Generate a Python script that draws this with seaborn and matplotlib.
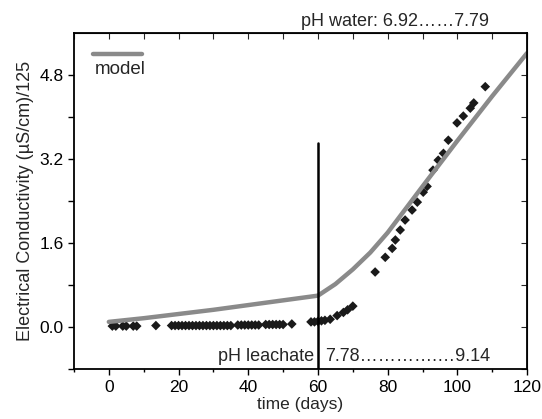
import numpy as np
import pandas as pd
import seaborn as sns
import matplotlib.pyplot as plt
from matplotlib.ticker import MultipleLocator

sns.set_style('ticks')
plt.rcParams['font.family'] = ['Liberation Sans', 'DejaVu Sans']

# measured data (time in days, EC/125)
days = [1, 2, 4, 5, 7, 8, 13.5,
        18, 19, 20, 21, 22, 23, 24, 25, 26, 27, 28, 29, 30, 31, 32, 33, 34, 35,
        37, 38, 39, 40, 41, 42, 43, 45, 46, 47, 48, 49, 50, 52.5,
        58, 59, 60, 61, 62, 63.5, 65.5, 67.3, 68.5, 70,
        76.4, 79.3, 81.3, 82.2, 83.6, 85, 87, 88.5, 90.2, 91.3, 93, 94.5,
        96, 97.4, 99.9, 101.7, 103.7, 104.7, 108]
ec = [0.02, 0.02, 0.02, 0.02, 0.02, 0.02, 0.03,
      0.03, 0.03, 0.03, 0.03, 0.03, 0.03, 0.03, 0.03, 0.03, 0.03, 0.03, 0.03, 0.03, 0.03, 0.03, 0.03, 0.03, 0.03,
      0.04, 0.04, 0.04, 0.04, 0.04, 0.04, 0.04, 0.05, 0.05, 0.05, 0.05, 0.05, 0.05, 0.06,
      0.1, 0.1, 0.11, 0.12, 0.13, 0.15, 0.22, 0.28, 0.33, 0.4,
      1.05, 1.33, 1.5, 1.66, 1.85, 2.04, 2.23, 2.38, 2.57, 2.68, 2.99, 3.18,
      3.31, 3.56, 3.89, 4.02, 4.17, 4.27, 4.58]

# model curve
model_days = [0, 10, 20, 30, 40, 50, 60, 65, 70, 75, 80, 90, 100, 110, 120]
model_ec = [0.1, 0.17, 0.25, 0.33, 0.42, 0.51, 0.6, 0.82, 1.1, 1.42, 1.8, 2.68, 3.55, 4.4, 5.22]

obs = pd.DataFrame({'t': days, 'ec': ec})
mod = pd.DataFrame({'t': model_days, 'ec': model_ec})

fig = plt.figure(figsize=(5.42, 4.19), dpi=100)
ax = fig.add_axes([0.1365, 0.119, 0.836, 0.802])

sns.lineplot(data=mod, x='t', y='ec', ax=ax, color='#8a8a8a', linewidth=3.2)
sns.scatterplot(data=obs, x='t', y='ec', ax=ax, marker='D', color='#1a1a1a',
                s=24, edgecolor='none')

ax.plot([60, 60], [-0.8, 3.5], color='black', linewidth=1.8)

ax.set_xlim(-10, 120)
ax.set_ylim(-0.8, 5.6)
ax.xaxis.set_major_locator(MultipleLocator(20))
ax.xaxis.set_minor_locator(MultipleLocator(10))
yt = [-0.8, 0.0, 0.8, 1.6, 2.4, 3.2, 4.0, 4.8]
ax.set_yticks(yt)
ax.set_yticklabels(['', '0.0', '', '1.6', '', '3.2', '', '4.8'])
ax.tick_params(axis='both', which='both', direction='out', labelsize=12.5,
               width=1, colors='black')
ax.tick_params(axis='both', which='major', length=4)
ax.tick_params(axis='x', which='minor', length=2.5)

# mirrored inward ticks
top = ax.secondary_xaxis('top')
top.xaxis.set_major_locator(MultipleLocator(10))
top.tick_params(direction='in', length=4, labeltop=False)
right = ax.secondary_yaxis('right')
right.set_yticks(yt)
right.tick_params(direction='in', length=4, labelright=False)

for sp in ax.spines.values():
    sp.set_linewidth(1.3)
    sp.set_color('black')

ax.set_xlabel('time (days)', fontsize=12.5, labelpad=2)
ax.set_ylabel('Electrical Conductivity (\u00b5S/cm)/125', fontsize=13, labelpad=4)

# legend
ax.plot([0.042, 0.150], [0.9375, 0.9375], transform=ax.transAxes,
        color='#8a8a8a', linewidth=3.2)
ax.text(0.046, 0.918, 'model', transform=ax.transAxes, fontsize=13.5,
        ha='left', va='top')

ax.text(0.916, 1.01, 'pH water: 6.92\u2026\u20267.79', transform=ax.transAxes,
        fontsize=13, ha='right', va='bottom')
ax.text(58.9, -0.73, 'pH leachate', fontsize=13, ha='right', va='bottom')
ax.text(62.0, -0.73, '7.78\u2026\u2026\u2026\u2026.\u20269.14', fontsize=13,
        ha='left', va='bottom')

fig.savefig('out.png', dpi=100)
